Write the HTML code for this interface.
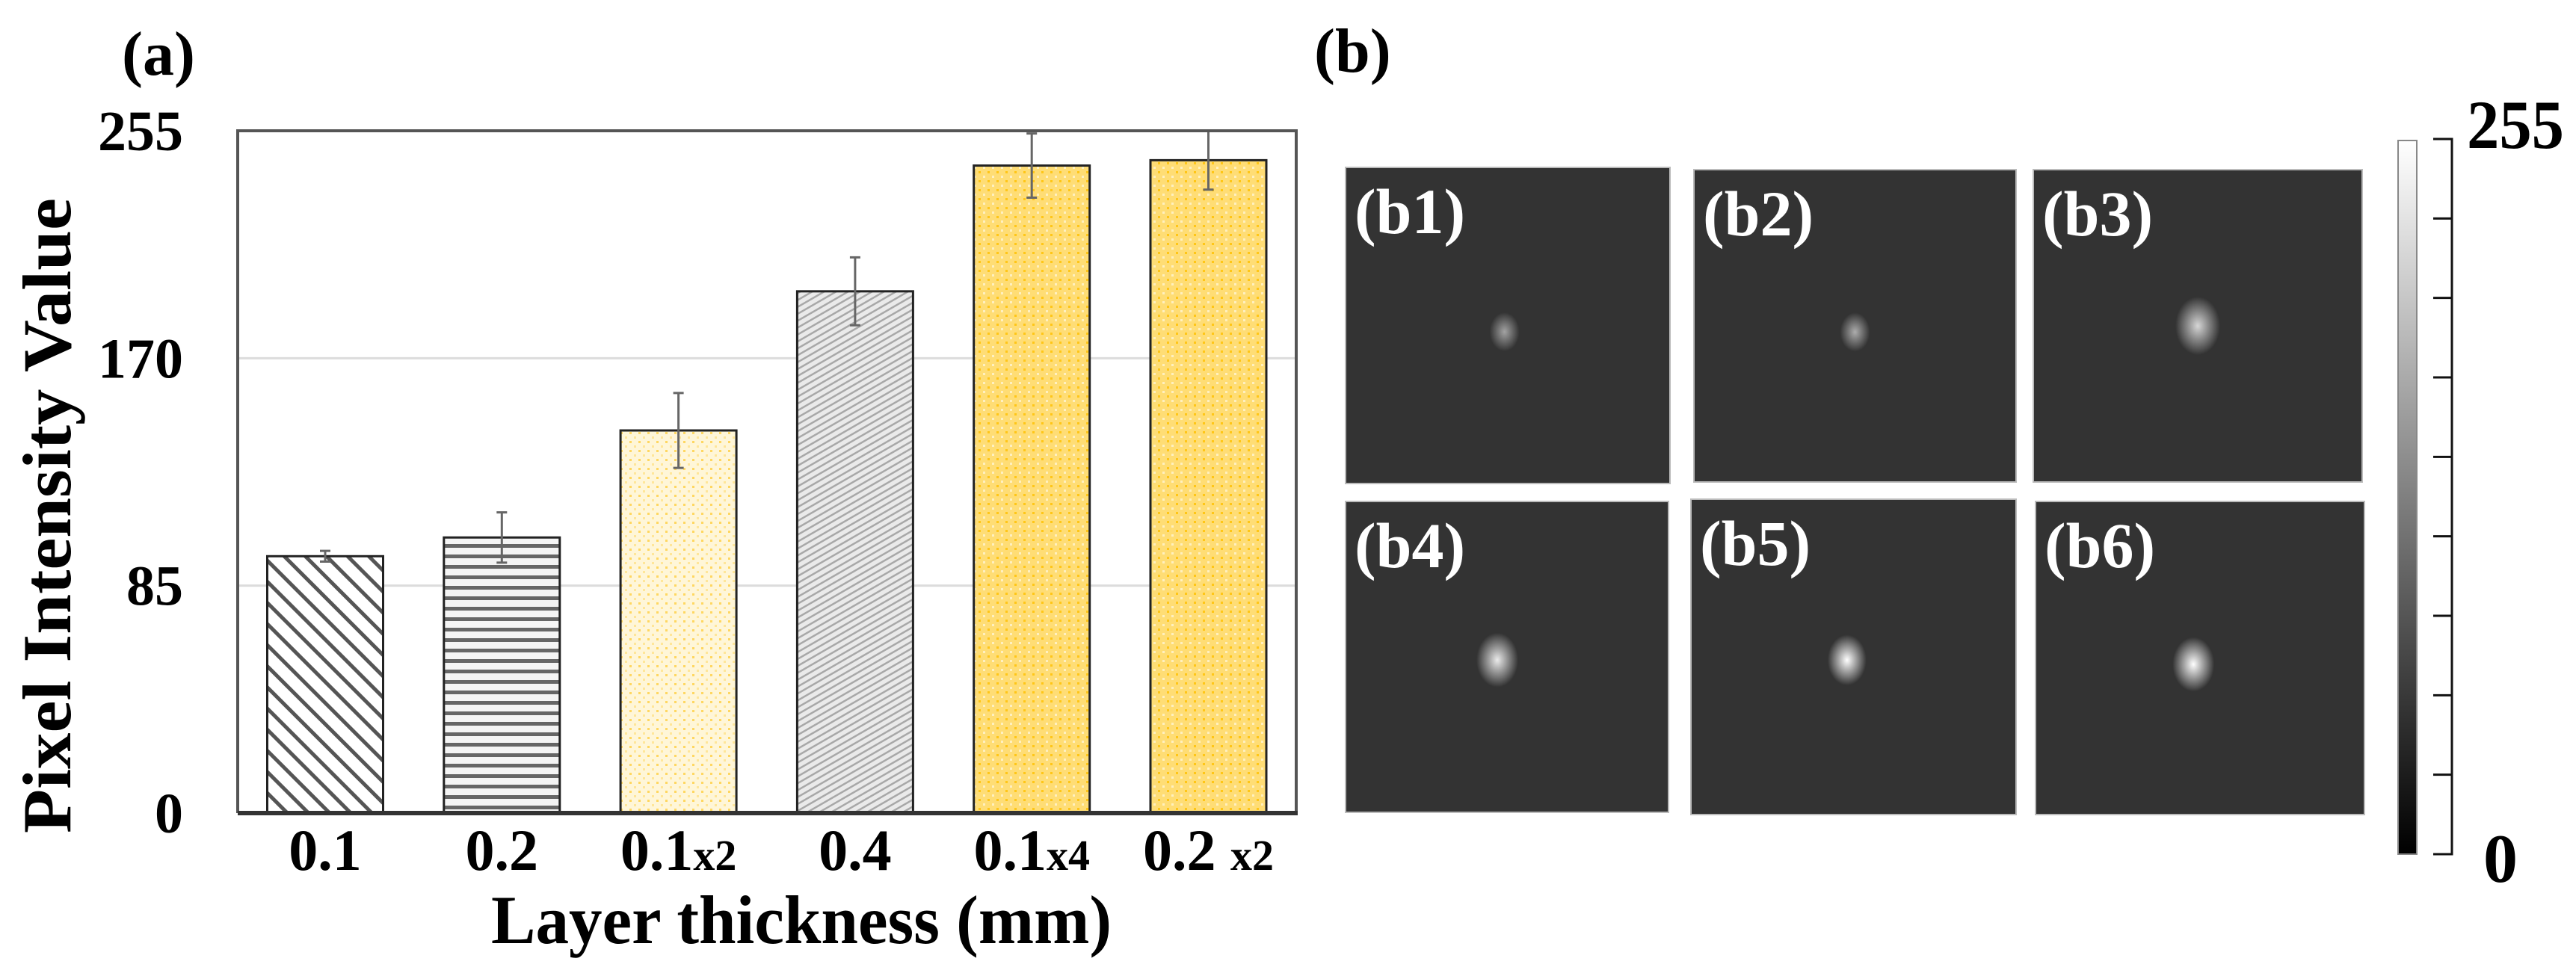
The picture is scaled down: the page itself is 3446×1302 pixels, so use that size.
<!DOCTYPE html>
<html><head><meta charset="utf-8">
<style>
html,body{margin:0;padding:0;background:#fff;}
svg{display:block;}
text{font-family:"Liberation Serif",serif;font-weight:bold;}
</style></head>
<body>
<svg id="fig" width="3446" height="1302" viewBox="0 0 3446 1302" xmlns="http://www.w3.org/2000/svg">
<defs>
  <pattern id="p-diag" width="20" height="20" patternUnits="userSpaceOnUse" patternTransform="rotate(-45)">
    <rect width="20" height="20" fill="#fff"/><rect x="0" width="5" height="20" fill="#555"/>
  </pattern>
  <pattern id="p-horz" width="14" height="14" patternUnits="userSpaceOnUse">
    <rect width="14" height="14" fill="#f4f4f4"/><rect y="0" width="14" height="5" fill="#666"/>
  </pattern>
  <pattern id="p-lyellow" width="12" height="12" patternUnits="userSpaceOnUse">
    <rect width="12" height="12" fill="#fff6d8"/><rect x="2" y="2" width="3" height="3" fill="#ffd760"/><rect x="8" y="8" width="3" height="3" fill="#ffe699"/>
  </pattern>
  <pattern id="p-gray" width="8" height="8" patternUnits="userSpaceOnUse" patternTransform="rotate(60)">
    <rect width="8" height="8" fill="#eaeaea"/><rect width="2.5" height="8" fill="#a8a8a8"/>
  </pattern>
  <pattern id="p-yellow" width="12" height="12" patternUnits="userSpaceOnUse">
    <rect width="12" height="12" fill="#ffdd75"/><rect x="1" y="1" width="3" height="3" fill="#ffc617"/><rect x="7" y="7" width="3" height="3" fill="#fff0c0"/>
  </pattern>
  <linearGradient id="cbar" x1="0" y1="1" x2="0" y2="0">
    <stop offset="0" stop-color="#000"/><stop offset="1" stop-color="#fff"/>
  </linearGradient>
  <radialGradient id="spot"><stop offset="0" stop-color="#fff" stop-opacity="1"/><stop offset="1" stop-color="#fff" stop-opacity="0"/></radialGradient>
</defs>
<g id="chart"></g>
<g id="panels"></g>
</svg>
<script>
const categories = ["0.1", "0.2", "0.1", "0.4", "0.1", "0.2 "];
const catSuffix = ["", "", "x2", "", "x4", "x2"];
const values = [96, 103, 143, 195, 242, 244];
const errors = [2, 9.4, 14, 12.7, 12, 11];
const yTicks = [0, 85, 170, 255];
const fills = ["url(#p-diag)", "url(#p-horz)", "url(#p-lyellow)", "url(#p-gray)", "url(#p-yellow)", "url(#p-yellow)"];

const NS = "http://www.w3.org/2000/svg";
function mk(tag, attrs, parent){const e=document.createElementNS(NS,tag);for(const k in attrs)e.setAttribute(k,attrs[k]);parent.appendChild(e);return e;}
const chart = document.getElementById('chart');
const X0=318, X1=1734, Y0=1088, Y1=175, YMAX=255;
function y(v){return Y0-(v/YMAX)*(Y0-Y1);}
const step=236.3, bw=155, firstC=435;
function xc(i){return firstC+i*step;}

yTicks.forEach(t=>{
  if(t>0 && t<YMAX){
    const g=mk('line',{x1:X0,x2:X1,y1:y(t),y2:y(t),stroke:'#dcdcdc','stroke-width':3},chart);
    
    
  }
  const tl=mk('text',{x:245,y:y(t)+26,'text-anchor':'end','font-size':76},chart);
  tl.textContent=t;
  
  
});
values.forEach((v,i)=>{
  const b=mk('rect',{x:xc(i)-bw/2,y:y(v),width:bw,height:Y0-y(v),fill:fills[i],stroke:'#222','stroke-width':3},chart);
  
  
  const top=Math.max(y(v+errors[i]),Y1), bot=y(v-errors[i]);
  const e=mk('path',{d:`M${xc(i)},${top}V${bot}M${xc(i)-7},${top}h14M${xc(i)-7},${bot}h14`,stroke:'#666','stroke-width':3,fill:'none'},chart);
  
  
  const tx=mk('text',{x:xc(i),y:1164,'text-anchor':'middle','font-size':78},chart);
  
  
  tx.textContent=categories[i];
  if(catSuffix[i]){const ts=mk('tspan',{'font-size':58},tx);ts.textContent=catSuffix[i];}
});
const fr=mk('path',{d:`M${X0},${Y0}V${Y1}H${X1}V${Y0}`,stroke:'#555','stroke-width':4,fill:'none'},chart);


const xa=mk('line',{x1:X0,x2:X1+2,y1:Y0,y2:Y0,stroke:'#333','stroke-width':6},chart);


const yt=mk('text',{x:0,y:0,'text-anchor':'middle','font-size':92,textLength:850,lengthAdjust:'spacingAndGlyphs',transform:'translate(94,690) rotate(-90)'},chart);
yt.textContent='Pixel Intensity Value';


const xt=mk('text',{x:1072,y:1262,'text-anchor':'middle','font-size':92,textLength:830,lengthAdjust:'spacingAndGlyphs'},chart);
xt.textContent='Layer thickness (mm)';


const la=mk('text',{x:163,y:100,'font-size':84},chart);
la.textContent='(a)';



const panels=document.getElementById('panels');
const lb=mk('text',{x:1758,y:96,'font-size':84},panels);
lb.textContent='(b)';


const rects=[[1800,224,434,423],[2266,227,431,418],[2720,227,440,418],[1800,671,432,416],[2262,668,435,422],[2723,671,440,419]];
const spots=[[0.49,0.52,20,0.55],[0.50,0.52,20,0.6],[0.50,0.50,30,0.8],[0.47,0.51,28,0.9],[0.48,0.51,26,1],[0.48,0.52,28,1]];
rects.forEach((r,i)=>{
  const g=mk('g',{},panels);
  
  
  mk('rect',{x:r[0],y:r[1],width:r[2],height:r[3],fill:'#333',stroke:'#bbb','stroke-width':2},g);
  const s=spots[i];
  mk('ellipse',{cx:r[0]+s[0]*r[2],cy:r[1]+s[1]*r[3],rx:s[2],ry:s[2]*1.3,fill:'url(#spot)',opacity:s[3]},g);
  const t=mk('text',{x:r[0]+12,y:r[1]+88,'font-size':86,fill:'#fff'},g);
  t.textContent='(b'+(i+1)+')';
});
const cb=mk('g',{},panels);


mk('rect',{x:3208,y:188,width:25,height:955,fill:'url(#cbar)',stroke:'#888','stroke-width':2},cb);
let d='M3255,186H3280V1143H3255';
for(let k=1;k<9;k++){const yy=186+k*(1143-186)/9;d+=`M3255,${yy}H3280`;}
mk('path',{d:d,stroke:'#111','stroke-width':3,fill:'none'},cb);
const c1=mk('text',{x:3300,y:198,'font-size':92,textLength:130,lengthAdjust:'spacingAndGlyphs'},cb);c1.textContent='255';
const c0=mk('text',{x:3322,y:1180,'font-size':92},cb);c0.textContent='0';
</script>
</body></html>
